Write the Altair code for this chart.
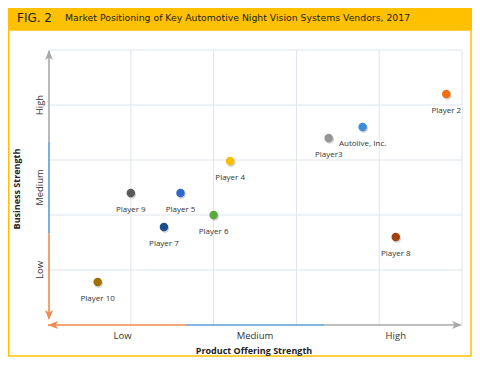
import altair as alt
import pandas as pd

# ---- data ----
players = ["Player 2", "Autolive, Inc.", "Player3", "Player 8", "Player 4",
           "Player 9", "Player 5", "Player 6", "Player 7", "Player 10"]
product_strength = [4.81, 3.80, 3.39, 4.20, 2.20, 1.00, 1.60, 2.00, 1.40, 0.60]
business_strength = [4.20, 3.60, 3.40, 1.60, 2.98, 2.40, 2.40, 2.00, 1.78, 0.78]
point_colors = ["#F26E10", "#3B8ED8", "#959595", "#A1400A", "#F7BE00",
                "#595959", "#2E66CC", "#5DAA3C", "#1B4F8C", "#A07000"]

level_labels = ["Low", "Medium", "High"]
x_label_pos = [0.9, 2.5, 4.2]
y_label_pos = [1.0, 2.5, 4.0]
grid_vals = [1, 2, 3, 4, 5]

fig_label = "FIG. 2"
fig_title = "Market Positioning of Key Automotive Night Vision Systems Vendors, 2017"
x_title = "Product Offering Strength"
y_title = "Business Strength"

ORANGE, BLUE, GRAY = "#F08A4B", "#5B9BD5", "#A9A9A9"
YELLOW = "#FFC000"
GRID = "#DFE5EC"

W, H = 414, 275
PAD = {"left": 40, "top": 42, "right": 10, "bottom": 32}
TOTAL_W = W + PAD["left"] + PAD["right"]   # 464
TOTAL_H = H + PAD["top"] + PAD["bottom"]   # 349

xs = alt.Scale(domain=[0, 5], nice=False, zero=False)
ys = alt.Scale(domain=[0, 5], nice=False, zero=False)

one = alt.Data(values=[{"a": 1}])

# background frame and header band
frame = alt.Chart(one).mark_rect(fill="white", stroke=YELLOW, strokeWidth=1.5).encode(
    x=alt.value(-PAD["left"] + 0.75), x2=alt.value(TOTAL_W - PAD["left"] - 1),
    y=alt.value(-20), y2=alt.value(TOTAL_H - PAD["top"] - 1))
band = alt.Chart(one).mark_rect(fill=YELLOW).encode(
    x=alt.value(-PAD["left"]), x2=alt.value(TOTAL_W - PAD["left"]),
    y=alt.value(-PAD["top"]), y2=alt.value(-20))
fig_txt = alt.Chart(one).mark_text(text=fig_label, font="DejaVu Sans", fontSize=12,
                                   align="left", baseline="middle", color="#222").encode(
    x=alt.value(-31), y=alt.value(-32))
title_txt = alt.Chart(one).mark_text(text=fig_title, font="DejaVu Sans", fontSize=9.3,
                                     align="left", baseline="middle", color="#222").encode(
    x=alt.value(17), y=alt.value(-32))

# grid
gdf = pd.DataFrame({"v": grid_vals})
vgrid = alt.Chart(gdf).mark_rule(color=GRID, strokeWidth=1).encode(
    x=alt.X("v:Q", scale=xs, axis=None), y=alt.value(0), y2=alt.value(H))
hgrid = alt.Chart(gdf).mark_rule(color=GRID, strokeWidth=1).encode(
    y=alt.Y("v:Q", scale=ys, axis=None), x=alt.value(0), x2=alt.value(W))

# coloured axis segments
xseg = pd.DataFrame({"a": [0.0, 5 / 3, 10 / 3], "b": [5 / 3, 10 / 3, 4.98],
                     "c": [ORANGE, BLUE, GRAY]})
yseg = pd.DataFrame({"a": [0.12, 5 / 3, 10 / 3], "b": [5 / 3, 10 / 3, 4.98],
                     "c": [ORANGE, BLUE, GRAY]})
xaxis_line = alt.Chart(xseg).mark_rule(strokeWidth=1.6).encode(
    x=alt.X("a:Q", scale=xs, axis=None), x2="b:Q", y=alt.value(H),
    color=alt.Color("c:N", scale=None))
yaxis_line = alt.Chart(yseg).mark_rule(strokeWidth=1.6).encode(
    y=alt.Y("a:Q", scale=ys, axis=None), y2="b:Q", x=alt.value(1),
    color=alt.Color("c:N", scale=None))

# arrowheads (tip at origin of each custom path)
UP = "M0,0L0.8,2L0,1.5L-0.8,2Z"
DOWN = "M0,0L0.8,-2L0,-1.5L-0.8,-2Z"
LEFT = "M0,0L2,-0.8L1.5,0L2,0.8Z"
RIGHT = "M0,0L-2,-0.8L-1.5,0L-2,0.8Z"
arrows = [
    alt.Chart(one).mark_point(shape=UP, filled=True, size=100, color=GRAY, opacity=1).encode(
        x=alt.value(1), y=alt.value(0)),
    alt.Chart(one).mark_point(shape=DOWN, filled=True, size=100, color=ORANGE, opacity=1).encode(
        x=alt.value(1), y=alt.value(H - 5)),
    alt.Chart(one).mark_point(shape=LEFT, filled=True, size=100, color=ORANGE, opacity=1).encode(
        x=alt.value(0), y=alt.value(H)),
    alt.Chart(one).mark_point(shape=RIGHT, filled=True, size=100, color=GRAY, opacity=1).encode(
        x=alt.value(W), y=alt.value(H)),
]

# level labels
xl = pd.DataFrame({"v": x_label_pos, "t": level_labels})
yl = pd.DataFrame({"v": y_label_pos, "t": level_labels})
xlab = alt.Chart(xl).mark_text(font="Open Sans", fontSize=9.5, color="#333",
                               baseline="middle").encode(
    x=alt.X("v:Q", scale=xs, axis=None), y=alt.value(286), text="t:N")
ylab = alt.Chart(yl).mark_text(font="Open Sans", fontSize=9.5, color="#333",
                               baseline="middle", angle=270).encode(
    y=alt.Y("v:Q", scale=ys, axis=None), x=alt.value(-8), text="t:N")

xt = alt.Chart(one).mark_text(text=x_title, font="Open Sans", fontSize=9, fontWeight="bold",
                              color="#222", baseline="middle").encode(
    x=alt.value(W / 2 - 1), y=alt.value(301))
yt = alt.Chart(one).mark_text(text=y_title, font="Open Sans", fontSize=9, fontWeight="bold",
                              color="#222", baseline="middle", angle=270).encode(
    x=alt.value(-31), y=alt.value(139))

# points
pdf = pd.DataFrame({"name": players, "x": product_strength, "y": business_strength,
                    "col": point_colors})
shadow = alt.Chart(pdf).mark_circle(size=72, color="#777", opacity=0.35, xOffset=1,
                                    yOffset=1.5).encode(
    x=alt.X("x:Q", scale=xs, axis=None), y=alt.Y("y:Q", scale=ys, axis=None))
pts = alt.Chart(pdf).mark_circle(size=72, opacity=1).encode(
    x=alt.X("x:Q", scale=xs, axis=None), y=alt.Y("y:Q", scale=ys, axis=None),
    color=alt.Color("col:N", scale=None))
lbl = alt.Chart(pdf).mark_text(font="Open Sans", fontSize=8, color="#333", dy=17,
                               baseline="middle").encode(
    x=alt.X("x:Q", scale=xs, axis=None), y=alt.Y("y:Q", scale=ys, axis=None),
    text="name:N")

chart = alt.layer(frame, band, fig_txt, title_txt, vgrid, hgrid, xaxis_line, yaxis_line,
                  *arrows, xlab, ylab, xt, yt, shadow, pts, lbl).properties(
    width=W, height=H,
    autosize=alt.AutoSizeParams(type="none"),
    padding=PAD,
).configure_view(stroke=None)

chart.save("out.html", embed_options={"renderer": "svg", "actions": False})
